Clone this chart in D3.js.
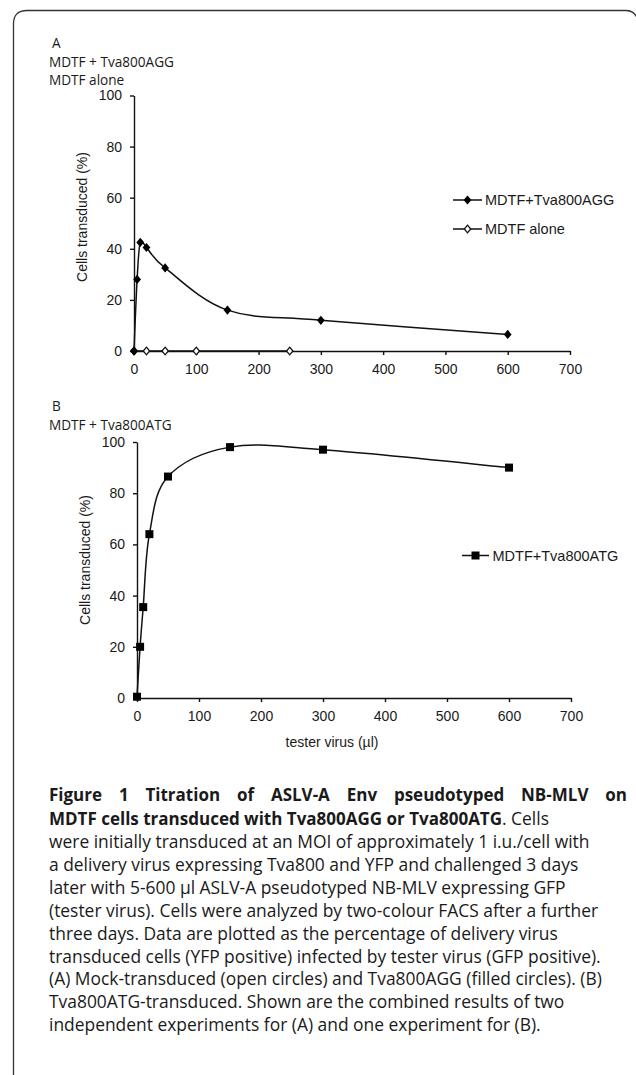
<!DOCTYPE html>
<html lang="en">
<head>
<meta charset="utf-8">
<script src="https://d3js.org/d3.v7.min.js"></script>
<style>
  body { margin: 0; background: #fff; }
  svg text { fill: #1a1a1a; }
  .ax { font-family: "Liberation Sans", Arial, sans-serif; font-size: 14px; }
  .cap { font-family: "Open Sans", sans-serif; }
</style>
</head>
<body>
<div id="fig"></div>
<script>
// panel A data (tester virus ul vs % cells transduced)
var aggX = [0, 5, 10, 20, 50, 150, 300, 600];
var aggY = [0, 28, 42.5, 40.5, 32.5, 16, 12, 6.5];
var aloneX = [0, 20, 50, 100, 250];
var aloneY = [0, 0, 0, 0, 0];
// panel B data
var atgX = [0, 5, 10, 20, 50, 150, 300, 600];
var atgY = [0.5, 20, 35.5, 64, 86.5, 98, 97, 90];

var xTicks = [0, 100, 200, 300, 400, 500, 600, 700];
var yTicks = [0, 20, 40, 60, 80, 100];

var captionBold = [
  "Figure 1 Titration of ASLV-A Env pseudotyped NB-MLV on",
  "MDTF cells transduced with Tva800AGG or Tva800ATG"
];
var captionLines = [
  "were initially transduced at an MOI of approximately 1 i.u./cell with",
  "a delivery virus expressing Tva800 and YFP and challenged 3 days",
  "later with 5-600 µl ASLV-A pseudotyped NB-MLV expressing GFP",
  "(tester virus). Cells were analyzed by two-colour FACS after a further",
  "three days. Data are plotted as the percentage of delivery virus",
  "transduced cells (YFP positive) infected by tester virus (GFP positive).",
  "(A) Mock-transduced (open circles) and Tva800AGG (filled circles). (B)",
  "Tva800ATG-transduced. Shown are the combined results of two",
  "independent experiments for (A) and one experiment for (B)."
];

var W = 636, H = 1075;
var svg = d3.select("#fig").append("svg")
  .attr("width", W).attr("height", H);

// frame round the figure
svg.append("path")
  .attr("d", "M13.5,1075 V24 Q13.5,10.5 27,10.5 H626 Q634,10.5 637,18")
  .attr("fill", "none").attr("stroke", "#333").attr("stroke-width", 1.3);

var diamond = "M0,-4.6 L3.9,0 L0,4.6 L-3.9,0 Z";
var diamondOpen = "M0,-3.8 L3.2,0 L0,3.8 L-3.2,0 Z";

function drawAxes(g, x, y) {
  g.append("g").attr("class", "ax")
    .attr("transform", "translate(0," + y(0) + ")")
    .call(d3.axisBottom(x).tickValues(xTicks).tickSize(4).tickSizeOuter(0).tickPadding(9));
  g.append("g").attr("class", "ax")
    .attr("transform", "translate(" + x(0) + ",0)")
    .call(d3.axisLeft(y).tickValues(yTicks).tickSize(4).tickSizeOuter(0).tickPadding(8));
  g.selectAll(".ax path, .ax line").attr("stroke", "#111").attr("stroke-width", 1.4);
  g.selectAll(".ax text").attr("fill", "#1a1a1a");
}

var line = function(x, y) {
  return d3.line()
    .x(function(d) { return x(d[0]); })
    .y(function(d) { return y(d[1]); })
    .curve(d3.curveCardinal.tension(0));
};

/* ---------- panel A ---------- */
var xA = d3.scaleLinear().domain([0, 700]).range([134, 570]);
var yA = d3.scaleLinear().domain([0, 100]).range([351, 95.5]);
var gA = svg.append("g");
drawAxes(gA, xA, yA);

var aloneData = d3.zip(aloneX, aloneY);
var aggData = d3.zip(aggX, aggY);

gA.append("path").datum(aloneData)
  .attr("d", line(xA, yA)).attr("fill", "none")
  .attr("stroke", "#111").attr("stroke-width", 1.5);
gA.selectAll(".open").data(aloneData).enter().append("path")
  .attr("class", "open").attr("d", diamondOpen)
  .attr("transform", function(d) { return "translate(" + xA(d[0]) + "," + yA(d[1]) + ")"; })
  .attr("fill", "#fff").attr("stroke", "#111").attr("stroke-width", 1.3);

gA.append("path").datum(aggData)
  .attr("d", line(xA, yA)).attr("fill", "none")
  .attr("stroke", "#111").attr("stroke-width", 1.5);
gA.selectAll(".fill").data(aggData).enter().append("path")
  .attr("class", "fill").attr("d", diamond)
  .attr("transform", function(d) { return "translate(" + xA(d[0]) + "," + yA(d[1]) + ")"; })
  .attr("fill", "#000");

gA.append("text").attr("class", "ax")
  .attr("transform", "translate(87,217) rotate(-90)")
  .attr("text-anchor", "middle").text("Cells transduced (%)");

// legend A
var legA = gA.append("g").attr("class", "ax").style("font-size", "14.5px");
legA.append("line").attr("x1", 453).attr("x2", 482).attr("y1", 200).attr("y2", 200)
  .attr("stroke", "#111").attr("stroke-width", 1.5);
legA.append("path").attr("d", diamond).attr("transform", "translate(467.5,200)").attr("fill", "#000");
legA.append("text").attr("x", 485).attr("y", 205).text("MDTF+Tva800AGG");
legA.append("line").attr("x1", 453).attr("x2", 482).attr("y1", 229).attr("y2", 229)
  .attr("stroke", "#111").attr("stroke-width", 1.5);
legA.append("path").attr("d", diamondOpen).attr("transform", "translate(467.5,229)")
  .attr("fill", "#fff").attr("stroke", "#111").attr("stroke-width", 1.3);
legA.append("text").attr("x", 485).attr("y", 234).text("MDTF alone");

var labA = svg.append("g").attr("class", "cap").style("font-size", "13.6px");
labA.append("text").attr("x", 52).attr("y", 48).text("A");
labA.append("text").attr("x", 49).attr("y", 67).text("MDTF + Tva800AGG");
labA.append("text").attr("x", 49).attr("y", 85).text("MDTF alone");

/* ---------- panel B ---------- */
var xB = d3.scaleLinear().domain([0, 700]).range([137, 571]);
var yB = d3.scaleLinear().domain([0, 100]).range([698, 442]);
var gB = svg.append("g");
drawAxes(gB, xB, yB);

var atgData = d3.zip(atgX, atgY);
gB.append("path").datum(atgData)
  .attr("d", line(xB, yB)).attr("fill", "none")
  .attr("stroke", "#111").attr("stroke-width", 1.5);
gB.selectAll(".sq").data(atgData).enter().append("rect")
  .attr("class", "sq")
  .attr("x", function(d) { return xB(d[0]) - 4; })
  .attr("y", function(d) { return yB(d[1]) - 4; })
  .attr("width", 8).attr("height", 8).attr("fill", "#000");

gB.append("text").attr("class", "ax")
  .attr("transform", "translate(90,560) rotate(-90)")
  .attr("text-anchor", "middle").text("Cells transduced (%)");
gB.append("text").attr("class", "ax")
  .attr("x", 332).attr("y", 747).attr("text-anchor", "middle").text("tester virus (µl)");

var legB = gB.append("g").attr("class", "ax").style("font-size", "14.5px");
legB.append("line").attr("x1", 462).attr("x2", 489).attr("y1", 555.5).attr("y2", 555.5)
  .attr("stroke", "#111").attr("stroke-width", 1.5);
legB.append("rect").attr("x", 471.5).attr("y", 551.5).attr("width", 8).attr("height", 8).attr("fill", "#000");
legB.append("text").attr("x", 492.5).attr("y", 560.5).text("MDTF+Tva800ATG");

var labB = svg.append("g").attr("class", "cap").style("font-size", "13.6px");
labB.append("text").attr("x", 52).attr("y", 411).text("B");
labB.append("text").attr("x", 49).attr("y", 430).text("MDTF + Tva800ATG");

/* ---------- caption ---------- */
var cap = svg.append("g").attr("class", "cap").attr("fill", "#222");

// regular size picked so the third line spans the width it has in the original
var probe = cap.append("text").style("font-size", "16px").text(captionLines[0]);
var regSize = 16 * 541 / probe.node().getComputedTextLength();
probe.remove();

var boldSize = "17px";
// first bold line is justified to the column: lay the words out one by one
var words = captionBold[0].split(" ");
var t1 = cap.append("text").attr("y", 801)
  .style("font-weight", "bold").style("font-size", boldSize);
var spans = words.map(function(w) { return t1.append("tspan").text(w); });
var widths = spans.map(function(s) { return s.node().getComputedTextLength(); });
var gap = (578 - d3.sum(widths)) / (words.length - 1);
var cx = 49;
spans.forEach(function(s, i) { s.attr("x", cx); cx += widths[i] + gap; });

var t2 = cap.append("text").attr("x", 49).attr("y", 825).style("font-size", boldSize);
t2.append("tspan").style("font-weight", "bold").text(captionBold[1]);
t2.append("tspan").style("font-size", regSize + "px").text(". Cells");

cap.selectAll(".cl").data(captionLines).enter().append("text")
  .attr("class", "cl")
  .attr("x", 49)
  .attr("y", function(d, i) { return 848 + i * 22.9; })
  .style("font-size", regSize + "px")
  .text(function(d) { return d; });
</script>
</body>
</html>
